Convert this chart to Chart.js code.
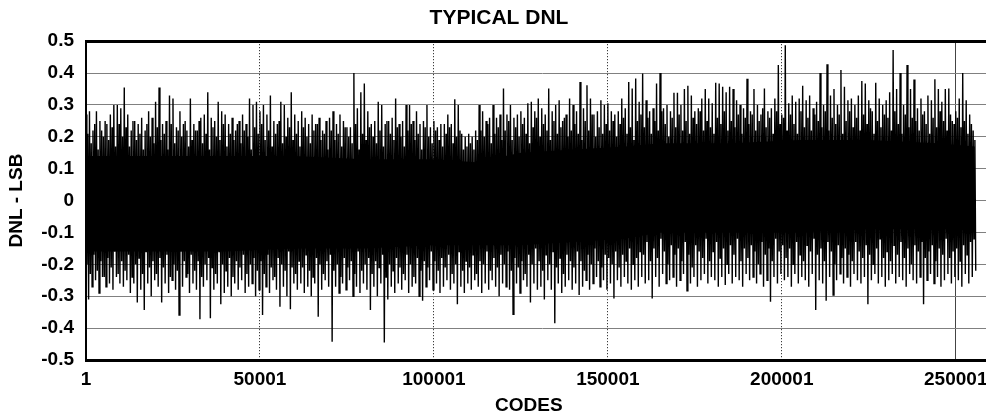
<!DOCTYPE html>
<html>
<head>
  <meta charset="UTF-8">
  <script src="https://cdn.jsdelivr.net/npm/chart.js@4.4.0/dist/chart.umd.min.js"></script>
  <style>
    html, body { margin: 0; padding: 0; overflow: hidden; background: #fff; }
  </style>
</head>
<body>
  <canvas id="chart" width="998" height="420"></canvas>
  <script>
    // DNL, per 1000-code bin:
    // dnlMax / dnlMin = tallest spikes, dnlMax2 / dnlMin2 = next spikes in the same bin
    const binSize = 1000;
    const dnlMax = [
      .27,.28,.22,.28,.25,.20,.24,.27,.30,.30,
      .29,.355,.27,.22,.25,.24,.26,.22,.28,.26,
      .31,.355,.24,.25,.33,.32,.23,.28,.24,.22,
      .32,.24,.22,.26,.27,.34,.26,.25,.31,.28,
      .27,.24,.26,.22,.25,.27,.24,.32,.30,.31,
      .28,.30,.27,.33,.25,.24,.31,.30,.26,.34,
      .27,.25,.28,.26,.24,.27,.24,.26,.22,.25,
      .26,.28,.24,.27,.25,.23,.23,.40,.29,.34,
      .367,.28,.24,.25,.31,.30,.24,.25,.26,.32,
      .24,.25,.30,.30,.25,.28,.24,.25,.30,.23,
      .25,.23,.24,.24,.27,.24,.318,.30,.21,.20,
      .21,.20,.22,.30,.28,.25,.26,.30,.26,.27,
      .352,.27,.30,.26,.27,.28,.26,.305,.31,.28,
      .32,.29,.27,.352,.28,.30,.315,.25,.27,.32,
      .30,.28,.372,.29,.362,.32,.27,.28,.315,.30,
      .305,.28,.27,.28,.32,.29,.372,.352,.383,.31,
      .399,.315,.28,.29,.367,.40,.29,.30,.28,.338,
      .338,.30,.35,.36,.33,.28,.29,.32,.35,.32,
      .305,.37,.367,.357,.34,.357,.35,.315,.30,.29,
      .382,.28,.35,.30,.27,.352,.28,.29,.32,.425,
      .27,.487,.305,.33,.31,.32,.36,.315,.33,.29,
      .31,.40,.30,.428,.33,.35,.30,.41,.357,.315,
      .32,.30,.33,.375,.367,.315,.28,.37,.32,.30,
      .315,.34,.472,.35,.40,.30,.425,.35,.38,.29,
      .32,.28,.33,.315,.381,.35,.31,.35,.352,.25,
      .28,.32,.40,.315,.27,.22
    ];
    const dnlMin = [
      -.31,-.27,-.25,-.29,-.24,-.27,-.26,-.28,-.24,-.26,
      -.27,-.25,-.29,-.26,-.32,-.28,-.343,-.26,-.30,-.25,
      -.27,-.32,-.26,-.29,-.25,-.28,-.359,-.27,-.24,-.29,
      -.26,-.28,-.372,-.27,-.25,-.369,-.28,-.26,-.325,-.29,
      -.27,-.30,-.26,-.28,-.25,-.29,-.27,-.26,-.30,-.28,
      -.359,-.27,-.29,-.25,-.28,-.333,-.27,-.30,-.341,-.26,
      -.28,-.26,-.29,-.27,-.30,-.26,-.364,-.28,-.25,-.27,
      -.443,-.27,-.29,-.26,-.28,-.25,-.30,-.27,-.29,-.26,
      -.28,-.343,-.27,-.30,-.26,-.445,-.31,-.27,-.29,-.26,
      -.28,-.25,-.29,-.27,-.26,-.30,-.314,-.27,-.25,-.28,
      -.26,-.29,-.27,-.25,-.28,-.26,-.325,-.27,-.29,-.26,
      -.28,-.25,-.27,-.29,-.26,-.28,-.25,-.27,-.30,-.26,
      -.27,-.28,-.357,-.26,-.29,-.25,-.27,-.32,-.26,-.28,
      -.27,-.31,-.25,-.28,-.385,-.26,-.29,-.27,-.25,-.28,
      -.26,-.296,-.27,-.25,-.28,-.26,-.24,-.27,-.25,-.28,
      -.26,-.307,-.25,-.27,-.24,-.26,-.28,-.25,-.27,-.24,
      -.26,-.25,-.307,-.24,-.27,-.23,-.26,-.25,-.24,-.27,
      -.25,-.23,-.283,-.26,-.24,-.27,-.25,-.23,-.26,-.24,
      -.25,-.27,-.24,-.265,-.23,-.26,-.24,-.25,-.27,-.23,
      -.25,-.24,-.26,-.23,-.27,-.25,-.317,-.24,-.26,-.23,
      -.25,-.24,-.27,-.23,-.26,-.24,-.25,-.27,-.23,-.343,
      -.25,-.26,-.314,-.24,-.296,-.25,-.23,-.26,-.24,-.27,
      -.23,-.25,-.26,-.24,-.325,-.25,-.23,-.26,-.24,-.27,
      -.25,-.23,-.26,-.24,-.25,-.27,-.23,-.25,-.26,-.24,
      -.325,-.25,-.23,-.26,-.24,-.27,-.25,-.23,-.26,-.24,
      -.25,-.27,-.23,-.26,-.24,-.22
    ];
    const dnlMax2 = [
      .21,.18,.24,.16,.22,.25,.19,.23,.17,.24,
      .20,.23,.17,.25,.19,.21,.16,.24,.20,.18,
      .23,.19,.21,.16,.24,.18,.22,.20,.25,.17,
      .19,.22,.25,.18,.21,.16,.23,.20,.19,.24,
      .17,.21,.19,.24,.18,.22,.20,.16,.23,.21,
      .24,.19,.22,.17,.21,.25,.18,.20,.23,.19,
      .21,.17,.23,.20,.18,.22,.24,.19,.21,.16,
      .22,.19,.21,.17,.23,.20,.18,.24,.16,.21,
      .19,.23,.20,.18,.22,.17,.25,.21,.19,.23,
      .20,.17,.22,.24,.19,.21,.16,.23,.20,.18,
      .22,.19,.17,.21,.23,.18,.20,.22,.16,.17,
      .18,.16,.19,.22,.20,.24,.18,.21,.23,.19,
      .22,.25,.19,.23,.20,.24,.21,.18,.23,.26,
      .20,.24,.22,.19,.25,.21,.23,.26,.20,.22,
      .24,.21,.19,.25,.22,.27,.20,.23,.21,.24,
      .22,.25,.20,.24,.26,.21,.23,.19,.25,.27,
      .23,.26,.21,.25,.22,.28,.24,.20,.26,.23,
      .27,.22,.25,.21,.26,.24,.28,.22,.25,.23,
      .21,.26,.24,.28,.22,.25,.23,.27,.21,.26,
      .24,.27,.22,.25,.29,.23,.26,.21,.28,.24,
      .26,.22,.27,.24,.21,.28,.23,.26,.22,.27,
      .25,.23,.28,.22,.26,.24,.27,.21,.25,.28,
      .23,.26,.22,.27,.24,.29,.21,.25,.23,.27,
      .26,.22,.28,.24,.21,.27,.23,.26,.25,.22,
      .27,.24,.21,.26,.23,.28,.25,.22,.27,.24,
      .26,.23,.25,.21,.24,.19
    ];
    const dnlMin2 = [
      -.20,-.23,-.17,-.22,-.19,-.24,-.18,-.21,-.16,-.23,
      -.19,-.22,-.17,-.24,-.20,-.18,-.23,-.16,-.21,-.19,
      -.23,-.18,-.21,-.17,-.24,-.20,-.22,-.16,-.19,-.23,
      -.17,-.22,-.19,-.24,-.20,-.18,-.21,-.23,-.16,-.20,
      -.22,-.18,-.24,-.19,-.21,-.17,-.23,-.20,-.18,-.22,
      -.19,-.23,-.17,-.21,-.24,-.18,-.20,-.22,-.16,-.21,
      -.23,-.19,-.21,-.17,-.22,-.24,-.18,-.20,-.23,-.19,
      -.17,-.22,-.20,-.24,-.18,-.21,-.19,-.23,-.16,-.22,
      -.20,-.18,-.23,-.19,-.21,-.17,-.24,-.20,-.22,-.18,
      -.21,-.23,-.17,-.20,-.24,-.18,-.22,-.19,-.21,-.16,
      -.19,-.22,-.18,-.21,-.17,-.23,-.20,-.16,-.22,-.19,
      -.21,-.17,-.23,-.19,-.20,-.16,-.22,-.18,-.21,-.17,
      -.20,-.16,-.22,-.18,-.21,-.19,-.23,-.17,-.20,-.15,
      -.19,-.22,-.17,-.20,-.16,-.21,-.18,-.23,-.17,-.19,
      -.21,-.16,-.19,-.22,-.17,-.20,-.15,-.19,-.21,-.17,
      -.18,-.20,-.16,-.21,-.17,-.19,-.15,-.20,-.18,-.16,
      -.17,-.13,-.19,-.15,-.18,-.12,-.16,-.20,-.14,-.17,
      -.15,-.19,-.13,-.17,-.21,-.14,-.16,-.18,-.12,-.19,
      -.16,-.13,-.18,-.15,-.20,-.14,-.17,-.12,-.19,-.15,
      -.18,-.14,-.16,-.20,-.13,-.17,-.15,-.19,-.12,-.16,
      -.14,-.18,-.15,-.20,-.13,-.17,-.19,-.14,-.16,-.12,
      -.17,-.15,-.19,-.13,-.16,-.20,-.14,-.18,-.15,-.17,
      -.19,-.13,-.16,-.18,-.14,-.17,-.20,-.15,-.12,-.18,
      -.16,-.19,-.14,-.17,-.13,-.18,-.15,-.20,-.14,-.16,
      -.13,-.18,-.16,-.14,-.19,-.15,-.17,-.12,-.18,-.16,
      -.15,-.19,-.14,-.17,-.13,-.12
    ];

    // solid black band in the middle of the trace
    const coreCodes = [1, 20001, 40001, 60001, 80001, 100001, 112001, 125001, 140001, 155001, 165001, 185001, 205001, 225001, 245001, 255501];
    const coreHi = [.14, .14, .14, .14, .13, .13, .12, .15, .16, .17, .18, .18, .19, .19, .18, .17];
    const coreLo = [-.16, -.16, -.16, -.15, -.15, -.14, -.14, -.14, -.13, -.12, -.10, -.10, -.10, -.09, -.09, -.09];

    const xTicks = [1, 50001, 100001, 150001, 200001, 250001];
    const xSolidLine = [250001];
    const xMin = 1, xMax = 262144;
    const yMin = -0.5, yMax = 0.5, yStep = 0.1;

    const trace = [];
    dnlMax.forEach((hi, i) => {
      const start = 1 + i * binSize;
      trace.push({ x: start, y: hi });
      trace.push({ x: start + binSize * 0.25, y: dnlMin2[i] });
      trace.push({ x: start + binSize * 0.5, y: dnlMax2[i] });
      trace.push({ x: start + binSize * 0.75, y: dnlMin[i] });
    });
    const bandTop = coreCodes.map((c, i) => ({ x: c, y: coreHi[i] }));
    const bandBottom = coreCodes.map((c, i) => ({ x: c, y: coreLo[i] }));

    const fontFamily = '"Liberation Sans", Arial, Helvetica, sans-serif';
    const boldFont = size => ({ family: fontFamily, size: size, weight: 'bold' });

    const ctx = document.getElementById('chart').getContext('2d');
    new Chart(ctx, {
      type: 'line',
      data: {
        datasets: [
          { data: bandTop, fill: '+1', backgroundColor: '#000', borderWidth: 0, pointRadius: 0 },
          { data: bandBottom, fill: false, borderWidth: 0, pointRadius: 0 },
          { data: trace, fill: false, borderColor: '#000', borderWidth: 1.4, pointRadius: 0, tension: 0 }
        ]
      },
      options: {
        responsive: false,
        animation: false,
        events: [],
        layout: { padding: 0 },
        plugins: {
          legend: { display: false },
          tooltip: { enabled: false },
          title: {
            display: true,
            text: 'TYPICAL DNL',
            color: '#000',
            font: boldFont(21),
            padding: { top: 6, bottom: 10 }
          }
        },
        scales: {
          x: {
            type: 'linear',
            min: xMin,
            max: xMax,
            afterBuildTicks: s => { s.ticks = xTicks.map(v => ({ value: v })); },
            afterFit: s => { s.height = 60; },
            ticks: {
              autoSkip: false,
              maxRotation: 0,
              color: '#000',
              font: boldFont(19),
              padding: 8,
              callback: v => String(v)
            },
            grid: {
              drawTicks: false,
              lineWidth: 1,
              color: c => (c.tick && (c.tick.value === 1 || c.tick.value === 250001)) ? 'rgba(0,0,0,0)' : '#111'
            },
            border: { display: true, color: '#000', width: 3, dash: [1, 2] },
            title: {
              display: true,
              text: 'CODES     ',
              color: '#000',
              font: boldFont(19),
              padding: { top: 0, bottom: 3 }
            }
          },
          xTop: {
            type: 'linear',
            position: 'top',
            min: xMin,
            max: xMax,
            afterBuildTicks: s => { s.ticks = xSolidLine.map(v => ({ value: v })); },
            ticks: { display: false },
            grid: { drawTicks: false, color: '#444', lineWidth: 1 },
            border: { display: true, color: '#000', width: 3 }
          },
          y: {
            min: yMin,
            max: yMax,
            afterFit: s => { s.width = 86; },
            ticks: {
              stepSize: yStep,
              color: '#000',
              font: boldFont(19),
              padding: 12,
              callback: v => (Math.round(v * 10) / 10).toString()
            },
            grid: { drawTicks: false, color: '#808080', lineWidth: 1 },
            border: { display: true, color: '#000', width: 2 },
            title: {
              display: true,
              text: 'DNL - LSB',
              color: '#000',
              font: boldFont(19),
              padding: { top: 5, bottom: 0 }
            }
          }
        }
      }
    });
  </script>
</body>
</html>
